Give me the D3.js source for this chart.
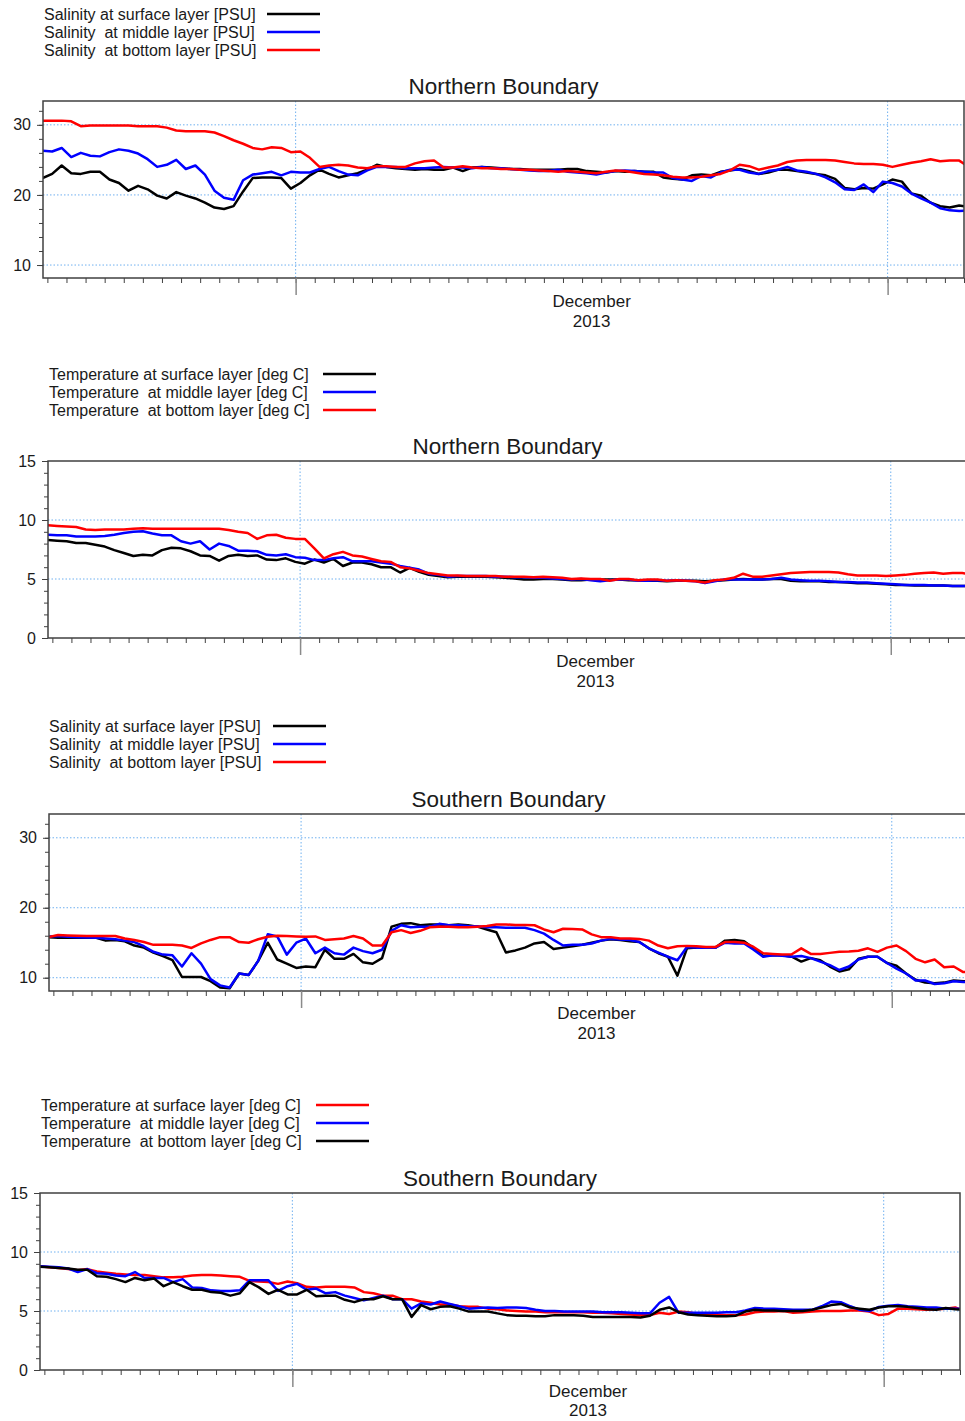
<!DOCTYPE html>
<html><head><meta charset="utf-8">
<script src="https://cdn.jsdelivr.net/npm/d3@7"></script>
<style>
body{margin:0;background:#fff}
svg{display:block}
text{font-family:"Liberation Sans",Arial,sans-serif;fill:#1a1a1a}
</style>
</head><body>
<svg id="c" width="965" height="1421"></svg>
<script>
// time grid: first sample 2013-11-17 18:00 UTC, one sample every 12 hours
const startTime = Date.UTC(2013, 10, 17, 18);
const stepHours = 12;

const salLegend = ["Salinity at surface layer [PSU]", "Salinity  at middle layer [PSU]", "Salinity  at bottom layer [PSU]"];
const tmpLegend = ["Temperature at surface layer [deg C]", "Temperature  at middle layer [deg C]", "Temperature  at bottom layer [deg C]"];
const titles = ["Northern Boundary", "Northern Boundary", "Southern Boundary", "Southern Boundary"];
const monthLabel = ["December", "2013"];

// Northern boundary salinity
const nSalSurf = [22.4,23.0,24.2,23.1,23.0,23.3,23.3,22.2,21.7,20.6, 21.3,20.8,19.9,19.5,20.4,19.9,19.5,18.9,18.2,18.0,
 18.4,20.5,22.4,22.5,22.5,22.4,20.9,21.7,22.8,23.6, 23.0,22.5,22.8,23.1,23.6,24.3,24.0,23.8,23.7,23.6,
 23.7,23.6,23.6,23.9,23.4,23.9,24.0,23.9,23.8,23.7, 23.7,23.6,23.6,23.6,23.6,23.7,23.7,23.4,23.3,23.2,
 23.4,23.3,23.4,23.3,23.3,22.5,22.3,22.2,22.8,22.9, 22.8,23.3,23.5,23.7,23.4,23.0,23.2,23.6,23.6,23.4,
 23.2,23.0,22.8,22.3,21.0,20.8,21.0,20.9,21.5,22.2, 21.9,20.2,19.9,18.9,18.4,18.2,18.5,18.3];
const nSalMid = [26.3,26.2,26.7,25.4,26.0,25.6,25.5,26.1,26.5,26.3, 25.9,25.1,24.0,24.3,25.0,23.7,24.2,22.9,20.6,19.6,
 19.3,22.1,22.9,23.1,23.3,22.8,23.3,23.2,23.2,23.7, 24.0,23.4,22.9,22.8,23.5,24.0,24.0,24.0,23.8,23.8,
 23.8,23.9,24.0,23.9,23.9,23.8,24.0,23.8,23.8,23.7, 23.6,23.5,23.4,23.4,23.6,23.3,23.2,23.1,22.9,23.2,
 23.4,23.5,23.4,23.3,23.2,23.2,22.4,22.2,22.0,22.7, 22.5,23.2,23.6,23.6,23.2,23.0,23.4,23.6,24.0,23.5,
 23.3,23.0,22.5,21.8,20.8,20.7,21.5,20.4,21.9,21.7, 21.2,20.2,19.5,18.9,18.1,17.8,17.7,17.8];
const nSalBot = [30.6,30.6,30.6,30.5,29.8,29.9,29.9,29.9,29.9,29.9, 29.8,29.8,29.8,29.6,29.2,29.1,29.1,29.1,28.9,28.4,
 27.8,27.3,26.7,26.5,26.8,26.7,26.1,26.2,25.3,24.0, 24.2,24.3,24.2,23.9,23.8,24.1,24.1,24.0,24.0,24.5,
 24.8,24.9,23.9,23.9,24.1,23.9,23.8,23.8,23.7,23.7, 23.6,23.6,23.5,23.4,23.3,23.4,23.3,23.2,23.1,23.3,
 23.5,23.4,23.2,23.0,22.9,22.8,22.6,22.5,22.5,22.6, 22.8,23.0,23.5,24.3,24.1,23.6,23.9,24.2,24.7,24.9,
 25.0,25.0,25.0,24.9,24.7,24.5,24.4,24.4,24.3,24.0, 24.3,24.6,24.8,25.1,24.8,24.9,24.9,24.0];

// Northern boundary temperature
const nTmpSurf = [8.3,8.25,8.2,8.05,8.05,7.9,7.75,7.45,7.2,6.95, 7.05,7.0,7.45,7.65,7.6,7.35,7.0,6.95,6.55,6.95,
 7.05,6.95,7.0,6.65,6.6,6.75,6.45,6.3,6.65,6.4, 6.7,6.1,6.4,6.4,6.25,6.0,6.0,5.55,5.95,5.6,
 5.35,5.25,5.15,5.2,5.2,5.2,5.2,5.15,5.1,5.05, 4.95,4.95,5.0,5.0,4.95,4.9,4.9,4.95,4.95,4.95,
 4.95,4.9,4.9,4.85,4.85,4.8,4.85,4.85,4.85,4.8, 4.85,4.9,4.95,5.0,4.95,4.95,5.0,5.0,4.85,4.8,
 4.8,4.8,4.75,4.75,4.7,4.65,4.65,4.6,4.55,4.5, 4.5,4.45,4.45,4.45,4.45,4.4,4.4,4.4];
const nTmpMid = [8.75,8.7,8.7,8.6,8.6,8.6,8.65,8.75,8.9,9.0, 9.05,8.85,8.7,8.7,8.2,8.0,8.2,7.5,8.0,7.8,
 7.4,7.4,7.35,7.05,7.0,7.1,6.85,6.8,6.6,6.6, 6.75,6.85,6.5,6.5,6.5,6.4,6.3,6.1,5.95,5.8,
 5.45,5.35,5.2,5.25,5.25,5.25,5.25,5.2,5.2,5.15, 5.15,5.1,5.1,5.05,5.0,4.95,5.0,4.9,4.8,4.9,
 4.95,4.95,4.85,4.85,4.9,4.85,4.9,4.85,4.8,4.65, 4.8,4.95,4.95,4.95,4.95,4.95,5.0,5.1,4.95,4.9,
 4.85,4.85,4.8,4.75,4.75,4.7,4.7,4.65,4.6,4.55, 4.5,4.5,4.5,4.45,4.45,4.4,4.4,4.4];
const nTmpBot = [9.55,9.5,9.45,9.4,9.2,9.15,9.2,9.2,9.2,9.25, 9.3,9.25,9.25,9.25,9.25,9.25,9.25,9.25,9.25,9.15,
 9.0,8.9,8.4,8.7,8.75,8.5,8.4,8.4,7.6,6.75, 7.1,7.3,7.0,6.9,6.7,6.5,6.45,6.0,5.9,5.7,
 5.5,5.4,5.3,5.3,5.25,5.25,5.25,5.25,5.2,5.2, 5.2,5.15,5.2,5.15,5.1,5.0,5.05,5.0,5.0,4.85,
 5.0,5.0,4.9,4.95,4.95,4.85,4.9,4.85,4.8,4.7, 4.9,4.95,5.1,5.45,5.2,5.2,5.3,5.4,5.5,5.55,
 5.6,5.6,5.6,5.55,5.4,5.3,5.3,5.3,5.25,5.3, 5.35,5.45,5.5,5.55,5.45,5.5,5.5,5.4];

// Southern boundary salinity
const sSalSurf = [15.8,15.7,15.7,15.7,15.7,15.7,15.3,15.4,15.2,14.6, 14.3,13.6,13.1,12.5,10.1,10.1,10.1,9.5,8.6,8.5,
 10.6,10.4,12.4,15.0,12.6,12.0,11.4,11.6,11.5,14.0, 12.7,12.7,13.4,12.2,12.0,12.8,17.3,17.7,17.8,17.5,
 17.6,17.6,17.5,17.6,17.5,17.3,16.9,16.5,13.6,13.9, 14.3,14.9,15.1,14.1,14.3,14.5,14.7,15.0,15.3,15.5,
 15.4,15.2,15.1,14.2,13.5,13.0,10.3,14.2,14.3,14.3, 14.3,15.3,15.4,15.2,14.2,13.1,13.2,13.2,13.0,12.3,
 12.8,12.5,11.6,10.9,11.2,12.7,13.0,13.0,12.1,11.7, 10.6,9.7,9.3,9.2,9.3,9.6,9.5,9.5];
const sSalMid = [15.9,15.95,15.85,15.8,15.75,15.7,15.6,15.5,15.3,15.1, 14.5,13.7,13.3,13.2,11.6,13.5,12.0,9.8,8.9,8.6,
 10.6,10.4,12.4,16.2,15.9,13.3,15.0,15.6,13.5,14.3, 13.5,13.3,14.3,13.8,13.5,14.0,16.7,17.5,17.2,17.3,
 17.3,17.7,17.5,17.5,17.4,17.35,17.2,17.2,17.15,17.15, 17.15,16.8,16.3,15.4,14.6,14.7,14.7,14.9,15.3,15.55,
 15.45,15.4,15.1,14.2,13.6,13.0,12.5,14.4,14.3,14.3, 14.3,15.0,14.9,14.9,14.0,13.0,13.2,13.15,13.0,13.1,
 12.8,12.3,11.8,11.1,11.6,12.6,13.0,13.0,12.1,11.3, 10.6,9.6,9.6,9.1,9.2,9.5,9.4,9.4];
const sSalBot = [15.8,16.1,16.05,16.0,15.95,15.95,15.95,15.95,15.6,15.4, 15.1,14.7,14.7,14.7,14.6,14.25,14.9,15.4,15.8,15.8,
 15.1,15.0,15.5,15.85,16.0,15.95,15.9,15.85,15.9,15.4, 15.5,15.6,15.95,15.6,14.6,14.6,16.5,16.8,16.4,16.7,
 17.2,17.3,17.3,17.2,17.2,17.3,17.4,17.6,17.6,17.55, 17.55,17.5,16.9,16.5,17.0,16.95,16.9,16.2,15.8,15.8,
 15.6,15.6,15.55,15.3,14.6,14.2,14.5,14.55,14.5,14.4, 14.4,15.1,15.1,15.0,14.4,13.5,13.4,13.3,13.35,14.2,
 13.4,13.4,13.55,13.7,13.75,13.85,14.2,13.7,14.3,14.6, 13.8,12.7,12.2,12.6,11.5,11.6,10.8,10.8];

// Southern boundary temperature
const sTmpSurf = [8.8,8.7,8.65,8.55,8.45,8.55,8.35,8.25,8.15,8.1, 8.05,8.05,7.95,7.85,7.85,7.9,8.0,8.05,8.05,8.0,
 7.95,7.9,7.55,7.5,7.45,7.3,7.5,7.35,7.05,7.0, 7.05,7.05,7.05,7.0,6.6,6.5,6.3,6.3,6.0,6.0,
 5.8,5.7,5.55,5.55,5.4,5.35,5.35,5.2,5.15,5.05, 5.0,4.95,4.95,4.9,4.9,4.9,4.9,4.9,4.85,4.85,
 4.8,4.75,4.7,4.65,4.65,4.85,4.75,4.95,4.9,4.75, 4.7,4.7,4.65,4.65,4.7,4.9,4.95,4.95,5.0,4.85,
 4.9,4.95,5.0,5.0,5.0,5.05,5.05,4.95,4.65,4.75, 5.2,5.2,5.15,5.1,5.15,5.2,5.3,5.0];
const sTmpMid = [8.8,8.75,8.7,8.6,8.3,8.55,8.2,8.15,8.0,7.95, 8.3,7.8,7.8,7.8,7.45,7.7,7.0,6.95,6.75,6.7,
 6.7,6.75,7.6,7.6,7.6,6.7,7.1,7.3,6.8,6.9, 6.5,6.6,6.3,6.1,5.9,6.1,6.3,6.0,6.0,5.2,
 5.65,5.55,5.8,5.6,5.4,5.2,5.25,5.3,5.25,5.3, 5.3,5.25,5.1,5.0,5.0,4.95,4.95,4.95,4.95,4.9,
 4.9,4.9,4.85,4.8,4.8,5.7,6.2,4.85,4.85,4.85, 4.85,4.85,4.9,4.9,5.05,5.25,5.2,5.2,5.15,5.1,
 5.1,5.1,5.4,5.8,5.75,5.4,5.1,5.0,5.35,5.45, 5.5,5.4,5.35,5.3,5.3,5.2,5.2,5.2];
const sTmpBot = [8.75,8.7,8.65,8.6,8.5,8.5,7.95,7.9,7.7,7.45, 7.8,7.6,7.75,7.1,7.45,7.1,6.8,6.8,6.6,6.55,
 6.3,6.5,7.45,7.0,6.45,6.8,6.4,6.4,6.8,6.25, 6.3,6.3,5.95,5.75,6.0,6.0,6.25,6.0,6.0,4.5,
 5.5,5.15,5.35,5.4,5.2,4.95,4.95,4.95,4.8,4.65, 4.6,4.6,4.55,4.55,4.65,4.65,4.65,4.6,4.5,4.5,
 4.5,4.5,4.5,4.45,4.6,5.1,5.3,4.9,4.7,4.65, 4.6,4.55,4.55,4.6,4.95,5.1,5.05,5.05,5.0,5.0,
 5.0,5.1,5.3,5.5,5.6,5.3,5.2,5.1,5.3,5.4, 5.4,5.35,5.25,5.15,5.1,5.25,5.15,5.1];

const colBlack = "#000000", colBlue = "#0000ff", colRed = "#ff0000";

const panels = [
  {title: titles[0], legend: salLegend, colors: [colBlack, colBlue, colRed], series: [nSalSurf, nSalMid, nSalBot],
   box: {l: 43, t: 101, r: 964, b: 278}, yDomain: [8.15, 33.4], yMajor: [10, 20, 30], yMinor: d3.range(10, 33, 2), yGrid: [10, 20, 30],
   leg: {x: 44, y: 14, lx: 267}, lab: [29, 49]},
  {title: titles[1], legend: tmpLegend, colors: [colBlack, colBlue, colRed], series: [nTmpSurf, nTmpMid, nTmpBot],
   box: {l: 48, t: 461, r: 967, b: 638}, yDomain: [0, 15], yMajor: [0, 5, 10, 15], yMinor: d3.range(0, 16, 1), yGrid: [5, 10],
   leg: {x: 49, y: 374, lx: 323}, lab: [29, 49]},
  {title: titles[2], legend: salLegend, colors: [colBlack, colBlue, colRed], series: [sSalSurf, sSalMid, sSalBot],
   box: {l: 49, t: 814, r: 968, b: 991}, yDomain: [8.1, 33.4], yMajor: [10, 20, 30], yMinor: d3.range(10, 33, 2), yGrid: [10, 20, 30],
   leg: {x: 49, y: 726, lx: 273}, lab: [28, 48]},
  {title: titles[3], legend: tmpLegend, colors: [colRed, colBlue, colBlack], series: [sTmpSurf, sTmpMid, sTmpBot],
   box: {l: 40, t: 1193, r: 960, b: 1370}, yDomain: [0, 15], yMajor: [0, 5, 10, 15], yMinor: d3.range(0, 16, 1), yGrid: [5, 10],
   leg: {x: 41, y: 1105, lx: 316}, lab: [27, 46]}
];

const svg = d3.select("#c");
const xStart = new Date(Date.UTC(2013, 10, 17, 18, 30));
const xEnd = new Date(Date.UTC(2014, 0, 5));

panels.forEach((p, k) => {
  const {l, t, r, b} = p.box;
  const x = d3.scaleUtc().domain([xStart, xEnd]).range([l, r]);
  const y = d3.scaleLinear().domain(p.yDomain).range([b, t]);
  const g = svg.append("g");
  const cid = "clip" + k;
  svg.append("clipPath").attr("id", cid).append("rect")
    .attr("x", l).attr("y", t).attr("width", r - l).attr("height", b - t);

  // legend
  p.legend.forEach((txt, j) => {
    const yy = p.leg.y + j * 18;
    g.append("text").attr("x", p.leg.x).attr("y", yy + 5.5)
      .attr("xml:space", "preserve").style("white-space", "pre")
      .style("font-size", "16px").text(txt);
    g.append("line").attr("x1", p.leg.lx).attr("x2", p.leg.lx + 53)
      .attr("y1", yy).attr("y2", yy)
      .attr("stroke", p.colors[j]).attr("stroke-width", 2.6);
  });

  // title
  g.append("text").attr("x", (l + r) / 2).attr("y", t - 7.5)
    .attr("text-anchor", "middle").style("font-size", "22.5px").text(p.title);

  // grid lines
  g.selectAll(".hg").data(p.yGrid).join("line")
    .attr("x1", l).attr("x2", r).attr("y1", d => y(d)).attr("y2", d => y(d))
    .attr("stroke", "#6fb0f0").attr("stroke-width", 1).attr("stroke-dasharray", "1.5,2");
  const months = x.ticks(d3.utcMonth.every(1));
  g.selectAll(".vg").data(months).join("line")
    .attr("x1", d => x(d)).attr("x2", d => x(d)).attr("y1", t).attr("y2", b)
    .attr("stroke", "#6fb0f0").attr("stroke-width", 1).attr("stroke-dasharray", "1.5,2");

  // series
  const line = d3.line()
    .x((d, i) => x(new Date(startTime + i * stepHours * 3600e3)))
    .y(d => y(d));
  p.series.forEach((s, j) => {
    g.append("path").datum(s).attr("clip-path", `url(#${cid})`)
      .attr("d", line).attr("fill", "none").attr("stroke", p.colors[j])
      .attr("stroke-width", 2.5).attr("stroke-linejoin", "round").attr("stroke-linecap", "round");
  });

  // frame
  g.append("rect").attr("x", l).attr("y", t).attr("width", r - l).attr("height", b - t)
    .attr("fill", "none").attr("stroke", "#404040").attr("stroke-width", 1.5);

  // x axis: daily minor ticks
  const xMinor = g.append("g").attr("transform", `translate(0,${b})`)
    .call(d3.axisBottom(x).ticks(d3.utcDay.every(1)).tickSize(5).tickFormat(""));
  xMinor.select(".domain").remove();
  xMinor.selectAll("line").attr("stroke", "#404040");
  // x axis: month major ticks
  const xMajor = g.append("g").attr("transform", `translate(0,${b})`)
    .call(d3.axisBottom(x).ticks(d3.utcMonth.every(1)).tickSize(17).tickFormat(""));
  xMajor.select(".domain").remove();
  xMajor.selectAll("line").attr("stroke", "#8a8a8a").attr("stroke-width", 1.5);

  // month label
  const mid = new Date((months[0].getTime() + months[1].getTime()) / 2);
  monthLabel.forEach((txt, j) => {
    g.append("text").attr("x", x(mid)).attr("y", b + p.lab[j])
      .attr("text-anchor", "middle").style("font-size", "17px").text(txt);
  });

  // y axis
  const yMinorAx = g.append("g").attr("transform", `translate(${l},0)`)
    .call(d3.axisLeft(y).tickValues(p.yMinor).tickSize(4).tickFormat(""));
  yMinorAx.select(".domain").remove();
  yMinorAx.selectAll("line").attr("stroke", "#404040");
  const yMajorAx = g.append("g").attr("transform", `translate(${l},0)`)
    .call(d3.axisLeft(y).tickValues(p.yMajor).tickSize(6).tickPadding(6).tickFormat(d3.format("d")));
  yMajorAx.select(".domain").remove();
  yMajorAx.selectAll("line").attr("stroke", "#404040");
  yMajorAx.selectAll("text").attr("fill", "#1a1a1a").style("font-size", "16px")
    .style("font-family", '"Liberation Sans", Arial, sans-serif');
});
</script>
</body></html>
